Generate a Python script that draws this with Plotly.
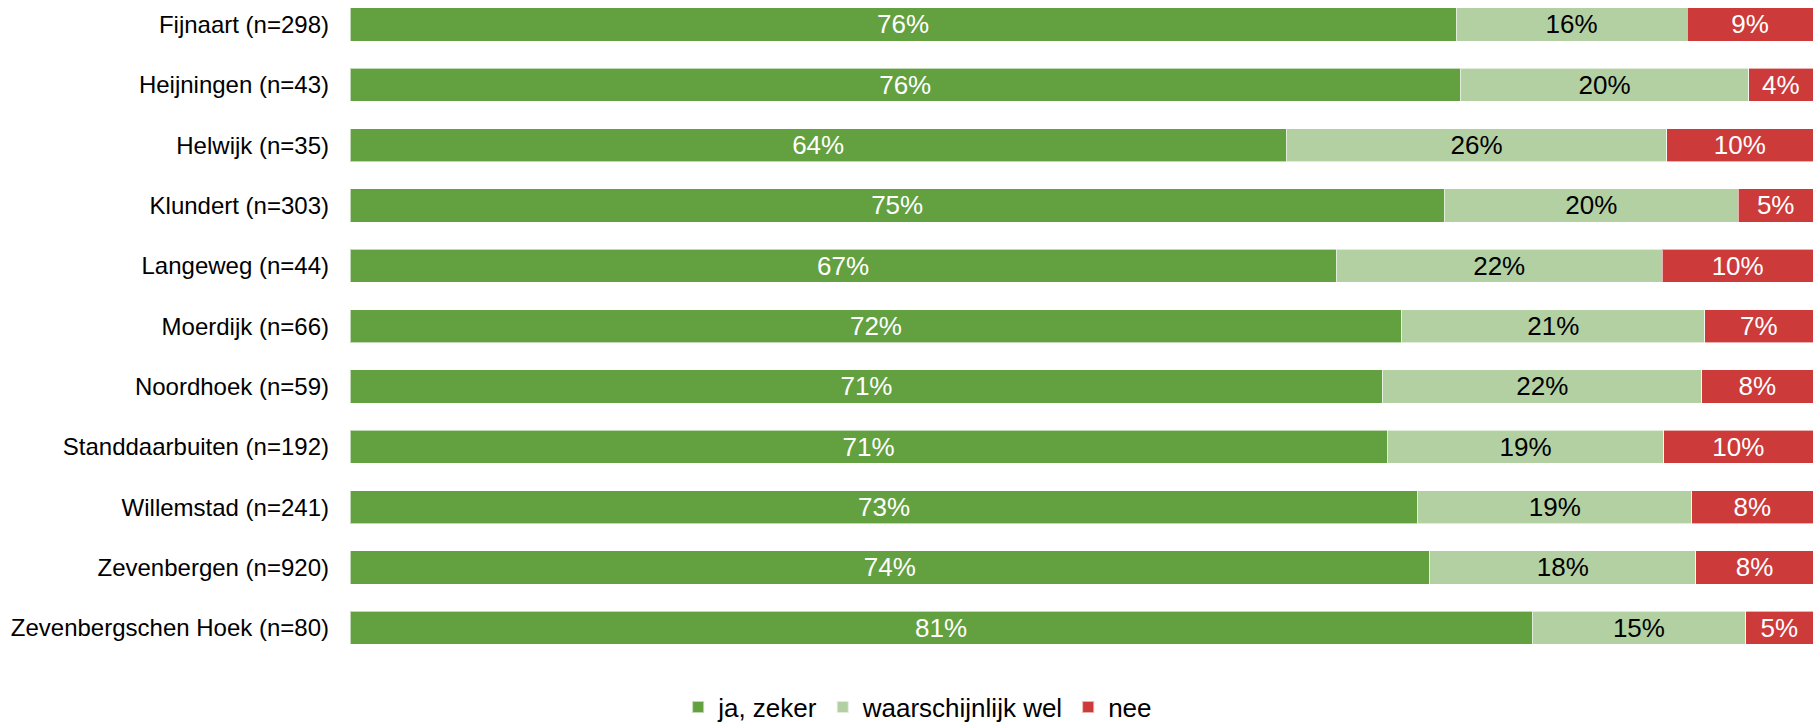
import plotly.graph_objects as go

categories = [
    "Fijnaart (n=298)",
    "Heijningen (n=43)",
    "Helwijk (n=35)",
    "Klundert (n=303)",
    "Langeweg (n=44)",
    "Moerdijk (n=66)",
    "Noordhoek (n=59)",
    "Standdaarbuiten (n=192)",
    "Willemstad (n=241)",
    "Zevenbergen (n=920)",
    "Zevenbergschen Hoek (n=80)",
]
ja_zeker = [75.6, 75.9, 64.0, 74.8, 67.4, 71.9, 70.6, 70.9, 73.0, 73.8, 80.8]
waarschijnlijk_wel = [15.8, 19.7, 26.0, 20.1, 22.3, 20.7, 21.8, 18.9, 18.7, 18.2, 14.6]
nee = [8.6, 4.4, 10.0, 5.1, 10.3, 7.4, 7.6, 10.2, 8.3, 8.0, 4.6]

series = [
    ("ja, zeker", ja_zeker, "#63A040", "white"),
    ("waarschijnlijk wel", waarschijnlijk_wel, "#B3D0A3", "black"),
    ("nee", nee, "#CC3A3A", "white"),
]

FONT = "Liberation Sans, Arial, sans-serif"

fig = go.Figure()
for name, vals, color, tcolor in series:
    fig.add_trace(go.Bar(
        name=name,
        y=categories,
        x=vals,
        orientation="h",
        width=0.55,
        marker=dict(color=color, line=dict(color="rgba(255,255,255,0.6)", width=1)),
        texttemplate="%{x:.0f}%",
        textposition="inside",
        insidetextanchor="middle",
        textangle=0,
        constraintext="none",
        textfont=dict(family=FONT, size=26, color=tcolor),
        hoverinfo="skip",
    ))

fig.update_layout(
    barmode="stack",
    width=1817,
    height=724,
    margin=dict(l=350, r=4, t=0, b=60, autoexpand=False),
    paper_bgcolor="white",
    plot_bgcolor="white",
    font=dict(family=FONT, color="black"),
    showlegend=True,
    legend=dict(
        orientation="h",
        x=0.388,
        xanchor="center",
        y=-0.065,
        yanchor="middle",
        font=dict(family=FONT, size=26, color="black"),
        itemsizing="constant",
        traceorder="normal",
        tracegroupgap=0,
    ),
    xaxis=dict(
        range=[0, 100],
        showgrid=False,
        zeroline=False,
        showticklabels=False,
        showline=False,
        fixedrange=True,
        automargin=False,
    ),
    yaxis=dict(
        categoryorder="array",
        categoryarray=categories,
        range=[10.6, -0.406],
        showgrid=False,
        zeroline=False,
        showline=False,
        ticks="",
        ticklabelstandoff=20,
        automargin=False,
        tickfont=dict(family=FONT, size=24, color="black"),
    ),
)

fig.write_html(
    "out.html",
    config={"displayModeBar": False},
    post_script="document.body.style.margin='0';document.body.style.overflow='hidden';",
)
